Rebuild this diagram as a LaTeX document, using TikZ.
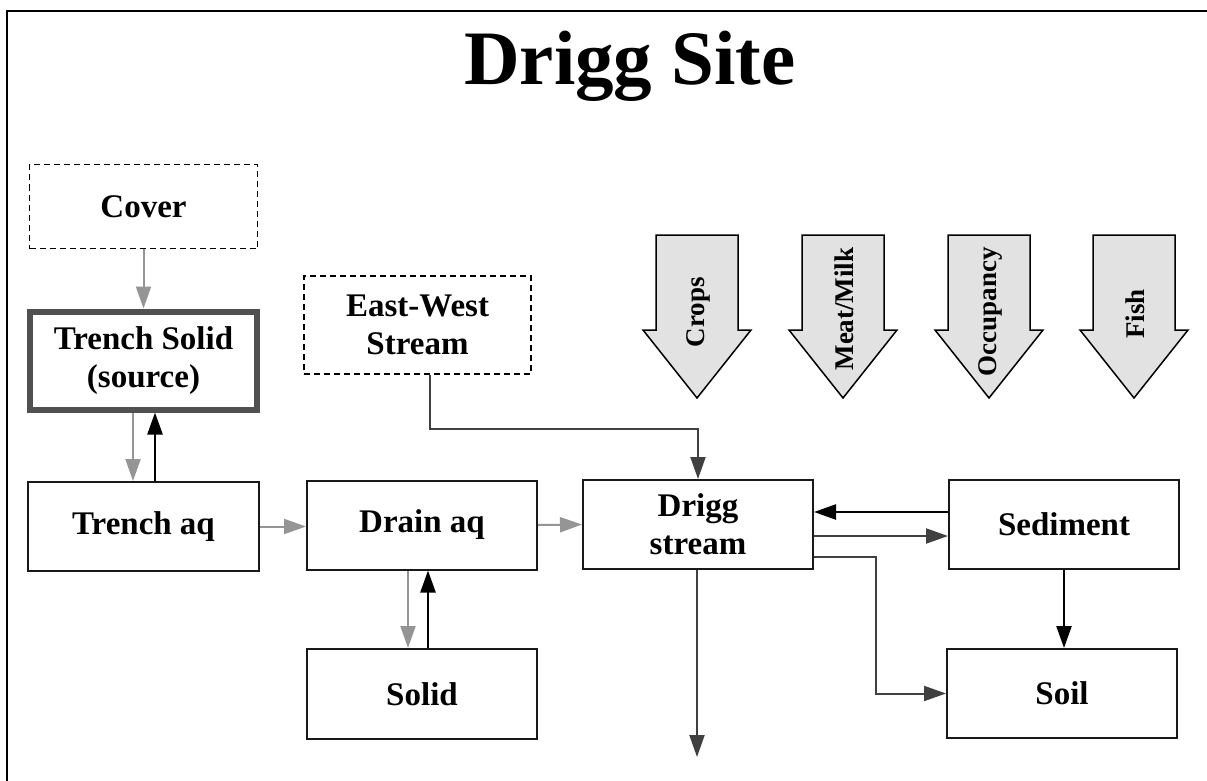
\documentclass[tikz,border=0pt]{standalone}
\usepackage{fontspec}
\setmainfont{Liberation Serif}
\usetikzlibrary{arrows.meta}
\definecolor{lightarr}{HTML}{959595}
\definecolor{darkarr}{HTML}{404040}
\definecolor{srcborder}{HTML}{505050}
\definecolor{bigfill}{HTML}{E2E2E2}
\tikzset{
  lbl/.style={font=\fontsize{33}{38}\selectfont\bfseries, align=center},
  box/.style={lbl, draw=black!90, line width=2pt, fill=white, minimum width=230pt, minimum height=89pt, inner sep=0pt},
  dbox/.style={lbl, draw=black, line width=1.1pt, dash pattern=on 6pt off 4pt, fill=white, minimum width=228pt, minimum height=84pt, inner sep=0pt},
  srcbox/.style={lbl, draw=srcborder, line width=6pt, fill=white, minimum width=227pt, minimum height=98pt, inner sep=0pt},
  tip/.style={-{Triangle[length=22pt,width=15pt]}},
  garrow/.style={tip, draw=lightarr, line width=2pt},
  karrow/.style={tip, draw=black, line width=2.4pt},
  darrow/.style={tip, draw=darkarr, line width=2pt},
  bigarrow/.style={draw=black, line width=1.5pt, fill=bigfill, line join=miter},
  biglbl/.style={font=\fontsize{27}{32}\selectfont\bfseries, rotate=90},
  frame/.style={draw=black, line width=2pt}
}
\begin{document}
\begin{tikzpicture}[x=1pt,y=-1pt]
\useasboundingbox (0,0) rectangle (1207,781);
\fill[white] (0,0) rectangle (1207,781);
% frame
\draw[frame] (7,781) -- (7,11.5) -- (1207,11.5);
% title
\node[font=\fontsize{77}{90}\selectfont\bfseries, anchor=base] (title) at (630,85) {Drigg Site};

% boxes
\node[dbox] (cover) at (143.5,206.5) {Cover};
\node[srcbox] (tsolid) at (143.5,360.5) {Trench Solid\\(source)};
\node[box, minimum width=231pt] (taq) at (143.5,526.5) {Trench aq};
\node[box] (drain) at (422,525) {Drain aq};
\node[box, minimum height=90pt] (solid) at (422,694) {Solid};
\node[dbox, minimum width=227pt, minimum height=98pt] (ew) at (417.5,325) {East-West\\Stream};
\node[box] (drigg) at (698,524.5) {Drigg\\stream};
\node[box] (sed) at (1064,524.5) {Sediment};
\node[box] (soil) at (1062,693.5) {Soil};

% big arrows
\draw[bigarrow] (656,235) -- (738,235) -- (738,330) -- (751,330) -- (697,398) -- (643,330) -- (656,330) -- cycle;
\node[biglbl] (crops) at (698,312) {Crops};
\draw[bigarrow] (802,235) -- (884,235) -- (884,330) -- (897,330) -- (843,398) -- (789,330) -- (802,330) -- cycle;
\node[biglbl] (meat) at (844,309) {Meat/Milk};
\draw[bigarrow] (948,235) -- (1030,235) -- (1030,330) -- (1043,330) -- (989,398) -- (935,330) -- (948,330) -- cycle;
\node[biglbl] (occ) at (990,312) {Occupancy};
\draw[bigarrow] (1093,235) -- (1175,235) -- (1175,330) -- (1188,330) -- (1134,398) -- (1080,330) -- (1093,330) -- cycle;
\node[biglbl] (fish) at (1135,314) {Fish};

% connectors
\draw[garrow] (cover) -- (tsolid);
\draw[garrow] ([xshift=-10.5pt]tsolid.south) -- ([xshift=-10.5pt]taq.north);
\draw[karrow] ([xshift=11.5pt]taq.north) -- ([xshift=11.5pt]tsolid.south);
\draw[garrow] (taq.east) -- (taq.east -| drain.west);
\draw[garrow] (drain.east) -- (drigg.west);
\draw[garrow] ([xshift=-14pt]drain.south) -- ([xshift=-14pt]solid.north);
\draw[karrow] ([xshift=6pt]solid.north) -- ([xshift=6pt]drain.south);
\draw[darrow] ([xshift=12.5pt]ew.south) -- ++(0,54) -| (drigg.north);
\draw[karrow] ([yshift=12.5pt]sed.west) -- ([yshift=12.5pt]drigg.east);
\draw[darrow] ([yshift=-11.5pt]drigg.east) -- ([yshift=-11.5pt]sed.west);
\draw[darrow] ([yshift=-32.5pt]drigg.east) -- ++(62,0) |- (soil.west);
\coordinate (out) at (697,757);
\draw[darrow] (drigg.south -| out) -- (out);
\draw[karrow] (sed.south) -- (sed.south |- soil.north);
\end{tikzpicture}
\end{document}
